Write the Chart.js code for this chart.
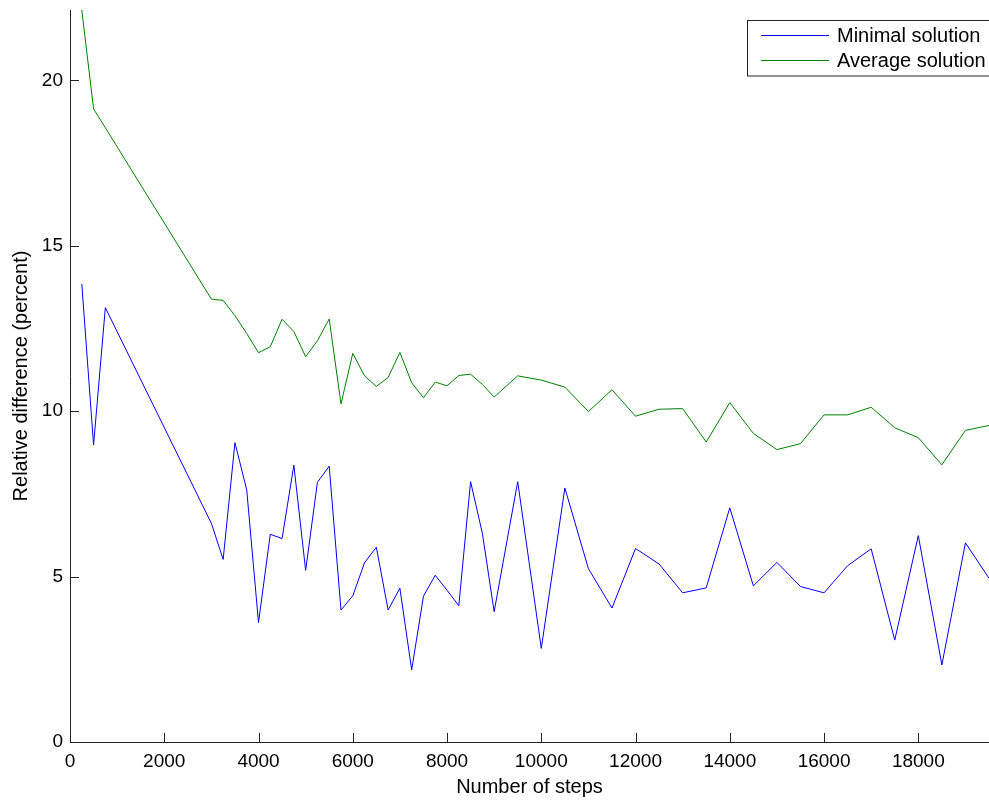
<!DOCTYPE html>
<html><head><meta charset="utf-8">
<script src="https://cdn.jsdelivr.net/npm/chart.js@4.4.0/dist/chart.umd.min.js"></script>
<style>html,body{margin:0;padding:0;background:#fff;}#wrap{width:989px;height:801px;position:relative;}</style>
</head><body><div id="wrap"><canvas id="c" width="989" height="801"></canvas></div>
<script>
const steps = [250,500,750,3000,3250,3500,3750,4000,4250,4500,4750,5000,5250,5500,5750,6000,6250,6500,6750,7000,7250,7500,7750,8000,8250,8500,8750,9000,9500,10000,10500,11000,11500,12000,12500,13000,13500,14000,14500,15000,15500,16000,16500,17000,17500,18000,18500,19000,19500];
const minimalSolution = [13.85,8.98,13.13,6.61,5.52,9.05,7.62,3.61,6.28,6.15,8.37,5.19,7.85,8.34,3.99,4.42,5.42,5.89,3.99,4.65,2.18,4.41,5.04,4.59,4.12,7.87,6.31,3.94,7.87,2.83,7.68,5.24,4.05,5.85,5.38,4.51,4.66,7.08,4.72,5.43,4.70,4.51,5.33,5.84,3.08,6.24,2.33,6.02,4.95];
const averageSolution = [22.13,19.14,18.57,13.39,13.35,12.89,12.35,11.77,11.95,12.78,12.41,11.65,12.13,12.79,10.22,11.75,11.07,10.75,11.02,11.78,10.86,10.41,10.88,10.77,11.08,11.12,10.81,10.43,11.07,10.94,10.73,9.99,10.65,9.85,10.06,10.08,9.07,10.26,9.33,8.84,9.02,9.89,9.89,10.12,9.50,9.20,8.38,9.42,9.57];
const seriesNames = ['Minimal solution','Average solution'];
const seriesColors = ['#0000ff','#008000'];
const xTickValues = [0,2000,4000,6000,8000,10000,12000,14000,16000,18000];
const yTickValues = [0,5,10,15,20];
const xTitle = 'Number of steps';
const yTitle = 'Relative difference (percent)';
const FONT = '"Liberation Sans", Arial, Helvetica, sans-serif';
const AXIS = '#222';

const toPts = arr => steps.map((s,i)=>({x:s,y:arr[i]}));

const decor = {
  id:'decor',
  afterDraw(chart){
    const ctx = chart.ctx, xs = chart.scales.x, ys = chart.scales.y, ca = chart.chartArea;
    ctx.save();
    ctx.strokeStyle = AXIS; ctx.lineWidth = 1;
    ctx.beginPath();
    xTickValues.forEach(v=>{ const p = Math.round(xs.getPixelForValue(v))+0.5; ctx.moveTo(p, ca.bottom); ctx.lineTo(p, ca.bottom-9); });
    yTickValues.forEach(v=>{ const p = Math.round(ys.getPixelForValue(v))+0.5; ctx.moveTo(ca.left, p); ctx.lineTo(ca.left+9, p); });
    ctx.stroke();
    // legend
    const bx = 747.5, by = 20.5, bw = 260, bh = 55.5;
    ctx.fillStyle = '#fff';
    ctx.fillRect(bx, by, bw, bh);
    ctx.strokeStyle = '#222';
    ctx.strokeRect(bx, by, bw, bh);
    ctx.font = '20px ' + FONT;
    ctx.textBaseline = 'middle';
    ctx.textAlign = 'left';
    seriesNames.forEach((n,i)=>{
      const y = 35.5 + i*25;
      ctx.strokeStyle = seriesColors[i];
      ctx.beginPath(); ctx.moveTo(761, y); ctx.lineTo(829, y); ctx.stroke();
      ctx.fillStyle = '#000';
      ctx.fillText(n, 837, y+1);
    });
    ctx.restore();
  }
};

new Chart(document.getElementById('c'), {
  type:'line',
  data:{ datasets:[
    {label:seriesNames[0], data:toPts(minimalSolution), borderColor:seriesColors[0], borderWidth:1, pointRadius:0, tension:0, fill:false},
    {label:seriesNames[1], data:toPts(averageSolution), borderColor:seriesColors[1], borderWidth:1, pointRadius:0, tension:0, fill:false}
  ]},
  options:{
    responsive:false, animation:false, devicePixelRatio:1,
    layout:{padding:{top:10,left:0,right:0,bottom:0}},
    plugins:{legend:{display:false}, tooltip:{enabled:false}},
    scales:{
      x:{type:'linear', min:0, max:19500,
        afterBuildTicks:s=>{ s.ticks = xTickValues.map(v=>({value:v})); },
        afterFit:s=>{ s.height = 59; s.paddingLeft = 0; s.paddingRight = 0; },
        grid:{display:false, drawTicks:false},
        border:{display:true, color:AXIS, width:1},
        ticks:{font:{family:FONT,size:19}, color:'#000', padding:8, maxRotation:0, autoSkip:false, callback:v=>String(v)},
        title:{display:true, text:xTitle, font:{family:FONT,size:20}, color:'#000', padding:{top:0,bottom:2}}
      },
      y:{type:'linear', min:0, max:22.13,
        afterBuildTicks:s=>{ s.ticks = yTickValues.map(v=>({value:v})); },
        afterFit:s=>{ s.width = 70; s.paddingTop = 0; s.paddingBottom = 0; },
        grid:{display:false, drawTicks:false},
        border:{display:true, color:AXIS, width:1},
        ticks:{font:{family:FONT,size:19}, color:'#000', padding:7, callback:v=>String(v)},
        title:{display:true, text:yTitle, font:{family:FONT,size:20}, color:'#000', padding:{top:9,bottom:0}}
      }
    }
  },
  plugins:[decor]
});
</script></body></html>
